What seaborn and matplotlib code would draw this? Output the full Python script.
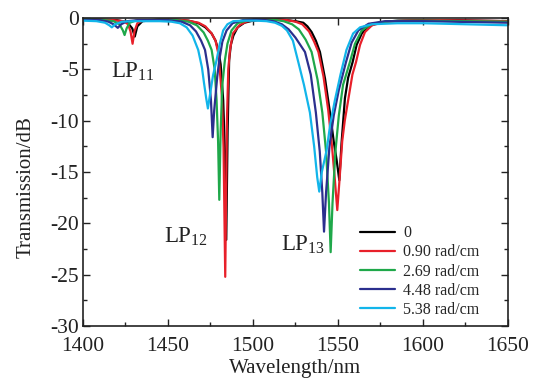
import numpy as np
import pandas as pd
import matplotlib
matplotlib.use("Agg")
import matplotlib.pyplot as plt
import seaborn as sns
from matplotlib.ticker import MultipleLocator
from matplotlib.lines import Line2D

labels = ["0", "0.90 rad/cm", "2.69 rad/cm", "4.48 rad/cm", "5.38 rad/cm"]
colors = ["#000000", "#E8202A", "#1FA84A", "#2B2F8E", "#12B5EA"]

wl_0 = [1400, 1410, 1420, 1426, 1429, 1430.5, 1432, 1435, 1445, 1455, 1462, 1468, 1472,
        1475.7, 1478, 1479.6, 1481, 1482.5, 1483.5, 1484.3, 1485.1, 1486, 1487, 1488.5,
        1491, 1495, 1500, 1508, 1515, 1520, 1525, 1529.6, 1532, 1534.5, 1537, 1539.4,
        1542.4, 1545.3, 1547.5, 1549.2, 1550.8, 1552.1, 1554.1, 1556, 1558.6, 1561, 1564,
        1568, 1575, 1585, 1600, 1620, 1650]
tr_0 = [-0.1, -0.15, -0.2, -0.4, -1.0, -1.8, -0.8, -0.3, -0.15, -0.15, -0.25, -0.5, -0.9,
        -1.5, -2.2, -3.1, -4.5, -8.0, -13.0, -21.6, -11.0, -4.1, -2.6, -1.7,
        -0.9, -0.45, -0.25, -0.1, -0.1, -0.2, -0.3, -0.45, -0.8, -1.36, -2.2, -3.3,
        -5.9, -9.2, -12.0, -13.8, -15.8, -12.2, -7.8, -5.8, -4.3, -2.6, -1.5,
        -0.8, -0.4, -0.25, -0.2, -0.2, -0.3]

wl_1 = [1400, 1410, 1418, 1424, 1426.5, 1428, 1429.2, 1430.3, 1432, 1435, 1445, 1455,
        1462, 1468, 1472, 1475.7, 1478, 1479.7, 1481.7, 1482.7, 1483.7, 1484.7, 1485.5,
        1486.5, 1488.2, 1492, 1496, 1502, 1510, 1520, 1525, 1529, 1533, 1536, 1538.5,
        1541.5, 1544.3, 1546.5, 1548.3, 1549.6, 1550.8, 1552.5, 1554, 1556, 1558.5, 1560.6,
        1563, 1565.9, 1570, 1578, 1590, 1610, 1650]
tr_1 = [-0.1, -0.15, -0.2, -0.3, -0.6, -1.3, -2.5, -1.3, -0.5, -0.25, -0.15, -0.15,
        -0.25, -0.45, -0.8, -1.5, -2.2, -3.5, -7.5, -12.6, -25.2, -10.0, -5.0,
        -3.1, -1.5, -0.7, -0.35, -0.15, -0.1, -0.2, -0.35, -0.6, -1.3, -2.3, -3.3,
        -5.7, -9.0, -12.5, -16.0, -18.7, -16.0, -12.0, -10.0, -8.0, -5.5, -4.3,
        -2.6, -1.36, -0.7, -0.35, -0.25, -0.2, -0.3]

wl_2 = [1400, 1410, 1418, 1421.5, 1423.5, 1424.5, 1425.7, 1427.5, 1431, 1445, 1455, 1462,
        1467, 1471, 1473.5, 1475.7, 1477.5, 1478.6, 1479.5, 1480.2, 1481, 1482, 1483.5,
        1485, 1487.4, 1491, 1496, 1502, 1512, 1518, 1523, 1527, 1531, 1534.5, 1538,
        1540.8, 1543, 1544.7, 1545.7, 1546.8, 1548.5, 1550.5, 1553, 1557, 1560, 1564,
        1570, 1580, 1600, 1650]
tr_2 = [-0.1, -0.15, -0.3, -0.6, -1.2, -1.65, -1.0, -0.45, -0.25, -0.15, -0.2, -0.35,
        -0.7, -1.4, -2.2, -3.1, -5.0, -8.0, -12.0, -17.7, -11.0, -6.5, -4.1,
        -2.5, -1.2, -0.5, -0.25, -0.15, -0.15, -0.3, -0.6, -1.1, -2.1, -3.3, -6.0,
        -9.2, -13.0, -18.0, -22.8, -18.0, -13.0, -9.5, -6.5, -4.3, -2.5, -1.2,
        -0.55, -0.3, -0.25, -0.35]

wl_3 = [1400, 1410, 1415, 1418, 1420.5, 1422.5, 1426, 1432, 1440, 1450, 1458, 1463,
        1466.5, 1469.5, 1471.8, 1473.7, 1475.3, 1476.3, 1477.2, 1479, 1480.2, 1482,
        1484.5, 1488, 1494, 1502, 1505, 1512, 1517, 1521, 1525, 1530.6, 1534, 1537,
        1539.3, 1540.8, 1541.8, 1543, 1545, 1547.5, 1550.5, 1554.7, 1558, 1562, 1568,
        1578, 1600, 1650]
tr_3 = [-0.15, -0.2, -0.35, -0.6, -0.95, -0.6, -0.3, -0.2, -0.2, -0.2, -0.35, -0.7,
        -1.3, -2.2, -3.1, -5.0, -8.0, -11.6, -9.0, -5.7, -4.1, -2.3,
        -1.2, -0.5, -0.2, -0.1, -0.15, -0.3, -0.6, -1.1, -1.9, -3.3, -5.5, -9.2,
        -13.0, -17.0, -20.8, -17.0, -12.5, -9.5, -7.0, -4.3, -2.4, -1.2, -0.55,
        -0.3, -0.3, -0.45]

wl_4 = [1400, 1408, 1413, 1415.5, 1417, 1419, 1423, 1430, 1445, 1452, 1457, 1461,
        1464.5, 1467.8, 1470, 1471.2, 1472.5, 1473.5, 1474.7, 1476.5, 1478.6, 1480.5,
        1482.5, 1485, 1488.4, 1495, 1502, 1508, 1513, 1517, 1520, 1523.5, 1526.7, 1530,
        1533.5, 1536, 1537.8, 1539, 1540.5, 1543.3, 1545.5, 1548.2, 1551.5, 1555,
        1558.9, 1563, 1570, 1585, 1600, 1625, 1650]
tr_4 = [-0.25, -0.3, -0.45, -0.7, -0.9, -0.6, -0.35, -0.3, -0.3, -0.35, -0.5, -0.9,
        -1.7, -3.1, -4.8, -6.3, -7.8, -8.8, -7.5, -5.6, -4.1, -2.5,
        -1.2, -0.6, -0.3, -0.25, -0.25, -0.3, -0.45, -0.75, -1.2, -2.2, -4.3, -6.5,
        -9.2, -12.5, -15.5, -16.9, -15.0, -12.9, -10.3, -8.0, -5.5, -3.1,
        -1.5, -0.9, -0.6, -0.5, -0.5, -0.6, -0.7]

wls = [wl_0, wl_1, wl_2, wl_3, wl_4]
trs = [tr_0, tr_1, tr_2, tr_3, tr_4]

frames = []
for lab, w, t in zip(labels, wls, trs):
    frames.append(pd.DataFrame({"Wavelength": w, "Transmission": t, "series": lab}))
df = pd.concat(frames, ignore_index=True)

sns.set_style("ticks")
plt.rcParams["font.family"] = ["Liberation Serif", "DejaVu Serif"]
plt.rcParams["mathtext.fontset"] = "custom"
plt.rcParams["mathtext.rm"] = "Liberation Serif"
plt.rcParams["mathtext.it"] = "Liberation Serif:italic"
plt.rcParams["axes.unicode_minus"] = False

txt = "#222222"
fig = plt.figure(figsize=(5.35, 3.85), dpi=100)
ax = fig.add_axes([0.155, 0.153, 0.7945, 0.8])

sns.lineplot(data=df, x="Wavelength", y="Transmission", hue="series",
             hue_order=labels, palette=dict(zip(labels, colors)),
             estimator=None, sort=True, linewidth=1.6, ax=ax, legend=False)

ax.set_xlim(1400, 1650)
ax.set_ylim(-30, 0)
ax.xaxis.set_major_locator(MultipleLocator(50))
ax.xaxis.set_minor_locator(MultipleLocator(25))
ax.yaxis.set_major_locator(MultipleLocator(5))
ax.yaxis.set_minor_locator(MultipleLocator(2.5))
ax.tick_params(which="both", direction="in", top=True, right=True, labelsize=15.5,
               width=1.0, colors=txt)
ax.tick_params(which="major", length=5)
ax.tick_params(which="minor", length=3)
ax.tick_params(axis="x", pad=8)
ax.tick_params(axis="y", pad=3)
for s in ax.spines.values():
    s.set_linewidth(1.2)
    s.set_color(txt)

ax.set_xlabel("Wavelength/nm", fontsize=15, labelpad=2, color=txt)
ax.set_ylabel("Transmission/dB", fontsize=15, color=txt)
ax.yaxis.set_label_coords(-0.112, 0.45)

ax.text(1416.5, -5.2, r"$\mathrm{LP}_{11}$", fontsize=16.5, va="center", ha="left", color=txt)
ax.text(1447.5, -21.3, r"$\mathrm{LP}_{12}$", fontsize=16.5, va="center", ha="left", color=txt)
ax.text(1516.5, -22.1, r"$\mathrm{LP}_{13}$", fontsize=16.5, va="center", ha="left", color=txt)

handles = [Line2D([0], [0], color=c, lw=1.6) for c in colors]
ax.legend(handles, labels, loc="lower right", bbox_to_anchor=(0.955, -0.005),
          frameon=False, fontsize=11.5, handlelength=2.2, handletextpad=0.5,
          labelspacing=0.2, borderaxespad=0.2)

fig.savefig("out.png", dpi=100)
